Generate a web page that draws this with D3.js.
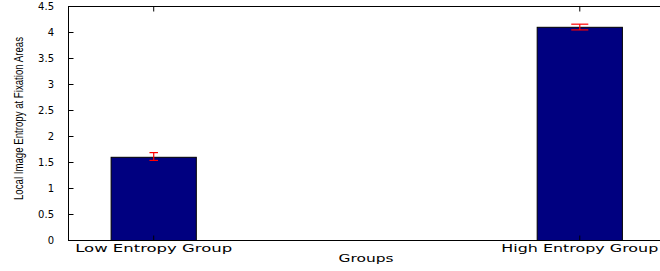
<!DOCTYPE html>
<html>
<head>
<meta charset="utf-8">
<script src="https://cdn.jsdelivr.net/npm/d3@7"></script>
<style>
  body { margin: 0; background: #fff; }
  text { font-family: "DejaVu Sans", "Liberation Sans", sans-serif; }
</style>
</head>
<body>
<div class="container"></div>
<script>
var width = 660;
var height = 271;

var groups = ["Low Entropy Group", "High Entropy Group"];
var means = [1.6, 4.1];
var errLow = [0.06, 0.05];
var errHigh = [0.09, 0.06];
var capWidths = [0.02, 0.04]; // cap width in x units
var yTicks = [0, 0.5, 1, 1.5, 2, 2.5, 3, 3.5, 4, 4.5];

var svg = d3.select(".container").append("svg")
  .attr("width", width)
  .attr("height", height);

// axes box runs past the right edge of the picture
var xScale = d3.scaleLinear().domain([0.8, 2.2]).range([68.5, 665]);
var yScale = d3.scaleLinear().domain([0, 4.5]).range([240.5, 6.5]);
var barWidth = 0.2;

// bars
svg.selectAll("rect.bar")
  .data(means)
  .enter().append("rect")
  .attr("class", "bar")
  .attr("x", (d, i) => xScale(i + 1 - barWidth / 2))
  .attr("y", d => yScale(d))
  .attr("width", xScale(1 + barWidth) - xScale(1))
  .attr("height", d => yScale(0) - yScale(d))
  .style("fill", "#000080")
  .style("stroke", "#000")
  .style("stroke-width", 1);

// error bars
means.forEach(function (m, i) {
  var cx = xScale(i + 1);
  var half = (xScale(1 + capWidths[i]) - xScale(1)) / 2;
  var yTop = yScale(m + errHigh[i]);
  var yBot = yScale(m - errLow[i]);
  var g = svg.append("g").style("stroke", "#ff0000").style("stroke-width", 1.2);
  g.append("line").attr("x1", cx).attr("x2", cx).attr("y1", yTop).attr("y2", yBot);
  g.append("line").attr("x1", cx - half).attr("x2", cx + half).attr("y1", yTop).attr("y2", yTop);
  g.append("line").attr("x1", cx - half).attr("x2", cx + half).attr("y1", yBot).attr("y2", yBot);
});

// axis box
var x0 = xScale.range()[0], x1 = xScale.range()[1];
var y0 = yScale.range()[0], y1 = yScale.range()[1];
svg.append("rect")
  .attr("x", x0).attr("y", y1)
  .attr("width", x1 - x0).attr("height", y0 - y1)
  .style("fill", "none")
  .style("stroke", "#000")
  .style("stroke-width", 1);

// y ticks, inward on both sides
var yAxisG = svg.append("g");
yTicks.forEach(function (t) {
  var y = yScale(t);
  yAxisG.append("line").attr("x1", x0).attr("x2", x0 + 5).attr("y1", y).attr("y2", y)
    .style("stroke", "#000");
  yAxisG.append("line").attr("x1", x1).attr("x2", x1 - 5).attr("y1", y).attr("y2", y)
    .style("stroke", "#000");
  yAxisG.append("text")
    .attr("x", 54)
    .attr("y", y)
    .attr("dy", "0.35em")
    .style("text-anchor", "end")
    .style("font-size", "10px")
    .text(t);
});

// x ticks, inward top and bottom; labels are stretched wide like the original
groups.forEach(function (g, i) {
  var x = xScale(i + 1);
  svg.append("line").attr("x1", x).attr("x2", x).attr("y1", y1).attr("y2", y1 + 5)
    .style("stroke", "#000");
  svg.append("line").attr("x1", x).attr("x2", x).attr("y1", y0).attr("y2", y0 - 5)
    .style("stroke", "#000");
  svg.append("text")
    .attr("x", x)
    .attr("y", 251.5)
    .attr("textLength", 157)
    .attr("lengthAdjust", "spacingAndGlyphs")
    .style("text-anchor", "middle")
    .style("font-size", "10px")
    .text(g);
});

// axis labels
svg.append("text")
  .attr("x", 366)
  .attr("y", 261.7)
  .attr("textLength", 55)
  .attr("lengthAdjust", "spacingAndGlyphs")
  .style("text-anchor", "middle")
  .style("font-size", "10px")
  .text("Groups");

svg.append("text")
  .attr("transform", "translate(23,118.5) rotate(-90)")
  .attr("textLength", 163)
  .attr("lengthAdjust", "spacingAndGlyphs")
  .style("text-anchor", "middle")
  .style("font-family", "'Liberation Sans Narrow', 'Liberation Sans', sans-serif")
  .style("font-size", "12px")
  .text("Local Image Entropy at Fixation Areas");
</script>
</body>
</html>
